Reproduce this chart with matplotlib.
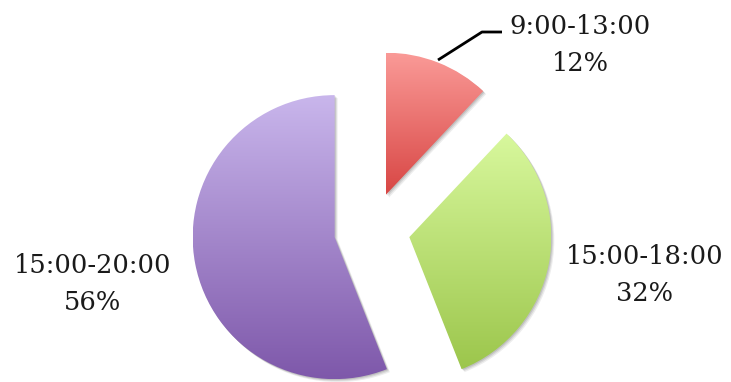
import numpy as np
import matplotlib
matplotlib.use("Agg")
import matplotlib.pyplot as plt
from matplotlib.patches import Wedge
from matplotlib.colors import LinearSegmentedColormap

# ---- data ----
labels = ['9:00-13:00', '15:00-18:00', '15:00-20:00']
shares = [12, 32, 56]

# gradient colours (top, bottom) per slice
grad_top = ['#fa9a97', '#d8f89d', '#c9b6ec']
grad_bot = ['#d84644', '#9cc64c', '#7e58aa']

fig = plt.figure(figsize=(7.31, 3.82), dpi=100)
ax = fig.add_axes([0, 0, 1, 1])

radius = 142
explode = [38, 38, 38]
wedges, _ = ax.pie(shares, radius=radius, center=(372, 152), startangle=90,
                   counterclock=False, explode=explode,
                   wedgeprops=dict(linewidth=0))

for i, w in enumerate(wedges):
    # soft shadow behind each slice
    for k, a in [(3, 0.07), (2, 0.09), (1, 0.11)]:
        sh = Wedge((w.center[0] + k, w.center[1] - k), w.r, w.theta1, w.theta2,
                   facecolor='black', edgecolor='none', alpha=a, zorder=0)
        ax.add_patch(sh)
    w.set_facecolor('none')
    w.set_zorder(2)
    bb = w.get_path().get_extents()
    cmap = LinearSegmentedColormap.from_list('g%d' % i, [grad_bot[i], grad_top[i]])
    grad = np.linspace(0, 1, 256).reshape(-1, 1)
    im = ax.imshow(grad, extent=[bb.x0, bb.x1, bb.y0, bb.y1], origin='lower',
                   cmap=cmap, aspect='auto', zorder=1, interpolation='bilinear')
    im.set_clip_path(w)

# labels
font = dict(family='DejaVu Serif', fontsize=18.5, color='#1a1a1a',
            ha='center', va='center', linespacing=1.6)
ax.text(580, 382 - 45, labels[0] + '\n%d%%' % shares[0], **font)
ax.text(645, 382 - 275, labels[1] + '\n%d%%' % shares[1], **font)
ax.text(93, 382 - 284, labels[2] + '\n%d%%' % shares[2], **font)

# leader line for the small slice
ax.plot([438, 482, 502], [382 - 60, 382 - 32, 382 - 32], color='black', lw=2,
        solid_capstyle='butt', zorder=3)

ax.set_xlim(0, 731)
ax.set_ylim(0, 382)
ax.set_aspect('auto')
ax.axis('off')

fig.savefig('out.png', dpi=100)
